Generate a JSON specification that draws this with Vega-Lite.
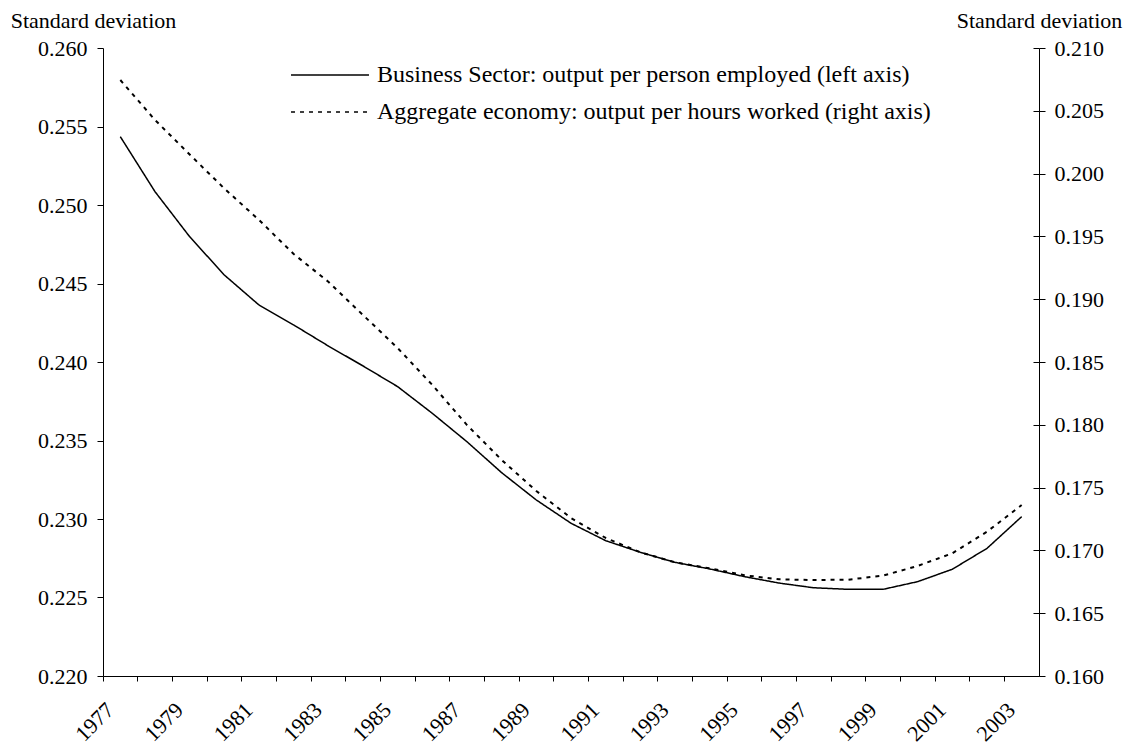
{
  "$schema": "https://vega.github.io/schema/vega-lite/v6.json",
  "autosize": "none",
  "width": 936,
  "height": 628,
  "padding": {"left": 103, "top": 48, "right": 94, "bottom": 71},
  "background": "white",
  "config": {
    "view": {"stroke": null},
    "font": "Liberation Serif",
    "axis": {
      "domainColor": "black", "tickColor": "black", "labelColor": "black", "titleColor": "black",
      "labelFont": "Liberation Serif", "titleFont": "Liberation Serif",
      "labelFontSize": 22, "titleFontSize": 22, "titleFontWeight": "normal",
      "grid": false, "domainWidth": 1, "tickWidth": 1
    },
    "legend": {
      "labelFont": "Liberation Serif", "labelFontSize": 24, "labelColor": "black", "labelLimit": 0,
      "symbolType": "M-4,0H4", "symbolSize": 380, "symbolStrokeWidth": 1.5,
      "symbolStrokeColor": "black", "symbolFillColor": "transparent"
    }
  },
  "data": {"values": [
    {"year": 1977, "series": "bus", "value": 0.25435},
    {"year": 1978, "series": "bus", "value": 0.25085},
    {"year": 1979, "series": "bus", "value": 0.24798},
    {"year": 1980, "series": "bus", "value": 0.24554},
    {"year": 1981, "series": "bus", "value": 0.24363},
    {"year": 1982, "series": "bus", "value": 0.24236},
    {"year": 1983, "series": "bus", "value": 0.24102},
    {"year": 1984, "series": "bus", "value": 0.23975},
    {"year": 1985, "series": "bus", "value": 0.23843},
    {"year": 1986, "series": "bus", "value": 0.23673},
    {"year": 1987, "series": "bus", "value": 0.23492},
    {"year": 1988, "series": "bus", "value": 0.23295},
    {"year": 1989, "series": "bus", "value": 0.23121},
    {"year": 1990, "series": "bus", "value": 0.22973},
    {"year": 1991, "series": "bus", "value": 0.22862},
    {"year": 1992, "series": "bus", "value": 0.22788},
    {"year": 1993, "series": "bus", "value": 0.22724},
    {"year": 1994, "series": "bus", "value": 0.22682},
    {"year": 1995, "series": "bus", "value": 0.22633},
    {"year": 1996, "series": "bus", "value": 0.22592},
    {"year": 1997, "series": "bus", "value": 0.22562},
    {"year": 1998, "series": "bus", "value": 0.22552},
    {"year": 1999, "series": "bus", "value": 0.22552},
    {"year": 2000, "series": "bus", "value": 0.22601},
    {"year": 2001, "series": "bus", "value": 0.22680},
    {"year": 2002, "series": "bus", "value": 0.22813},
    {"year": 2003, "series": "bus", "value": 0.23015},
    {"year": 1977, "series": "agg", "value": 0.20745},
    {"year": 1978, "series": "agg", "value": 0.20427},
    {"year": 1979, "series": "agg", "value": 0.20152},
    {"year": 1980, "series": "agg", "value": 0.19881},
    {"year": 1981, "series": "agg", "value": 0.19631},
    {"year": 1982, "series": "agg", "value": 0.19360},
    {"year": 1983, "series": "agg", "value": 0.19139},
    {"year": 1984, "series": "agg", "value": 0.18874},
    {"year": 1985, "series": "agg", "value": 0.18611},
    {"year": 1986, "series": "agg", "value": 0.18317},
    {"year": 1987, "series": "agg", "value": 0.17998},
    {"year": 1988, "series": "agg", "value": 0.17720},
    {"year": 1989, "series": "agg", "value": 0.17473},
    {"year": 1990, "series": "agg", "value": 0.17258},
    {"year": 1991, "series": "agg", "value": 0.17099},
    {"year": 1992, "series": "agg", "value": 0.16985},
    {"year": 1993, "series": "agg", "value": 0.16905},
    {"year": 1994, "series": "agg", "value": 0.16857},
    {"year": 1995, "series": "agg", "value": 0.16802},
    {"year": 1996, "series": "agg", "value": 0.16770},
    {"year": 1997, "series": "agg", "value": 0.16764},
    {"year": 1998, "series": "agg", "value": 0.16767},
    {"year": 1999, "series": "agg", "value": 0.16799},
    {"year": 2000, "series": "agg", "value": 0.16876},
    {"year": 2001, "series": "agg", "value": 0.16977},
    {"year": 2002, "series": "agg", "value": 0.17149},
    {"year": 2003, "series": "agg", "value": 0.17361}
  ]},
  "encoding": {
    "x": {
      "field": "year", "type": "ordinal",
      "scale": {"type": "band", "paddingInner": 0, "paddingOuter": 0},
      "axis": {
        "title": null, "bandPosition": 0, "labelAngle": -45, "labelAlign": "right",
        "labelBaseline": "middle", "labelPadding": 25, "labelOffset": -10, "tickSize": 5,
        "labelOverlap": false, "labelBound": false,
        "labelExpr": "datum.value % 2 == 1 ? datum.label : ''"
      }
    }
  },
  "layer": [
    {
      "transform": [{"filter": "datum.series == 'bus'"}],
      "mark": {"type": "line", "color": "black", "strokeWidth": 1.5},
      "encoding": {
        "y": {
          "field": "value", "type": "quantitative",
          "scale": {"domain": [0.22, 0.26], "zero": false, "nice": false},
          "axis": {
            "orient": "left", "values": [0.22, 0.225, 0.23, 0.235, 0.24, 0.245, 0.25, 0.255, 0.26],
            "format": ".3f", "tickSize": 6, "labelPadding": 10,
            "title": "Standard deviation", "titleAngle": 0, "titleAlign": "center",
            "titleBaseline": "alphabetic", "titleX": -10, "titleY": -21
          }
        },
        "strokeDash": {
          "field": "series", "type": "nominal",
          "scale": {"domain": ["bus", "agg"], "range": [[1, 0], [4, 5]]},
          "legend": {
            "title": null, "orient": "none", "legendX": 215, "legendY": 15,
            "padding": 0, "rowPadding": 13, "labelOffset": 35,
            "labelExpr": "datum.value == 'bus' ? 'Business Sector: output per person employed (left axis)' : 'Aggregate economy: output per hours worked (right axis)'"
          }
        }
      }
    },
    {
      "transform": [{"filter": "datum.series == 'agg'"}],
      "mark": {"type": "line", "color": "black", "strokeWidth": 2},
      "encoding": {
        "y": {
          "field": "value", "type": "quantitative",
          "scale": {"domain": [0.16, 0.21], "zero": false, "nice": false},
          "axis": {
            "orient": "right", "values": [0.16, 0.165, 0.17, 0.175, 0.18, 0.185, 0.19, 0.195, 0.2, 0.205, 0.21],
            "format": ".3f", "tickSize": 6, "labelPadding": 9,
            "title": "Standard deviation", "titleAngle": 0, "titleAlign": "center",
            "titleBaseline": "alphabetic", "titleX": 0, "titleY": -21
          }
        },
        "strokeDash": {"field": "series", "type": "nominal"}
      }
    },
    {
      "transform": [{"filter": "datum.series == 'agg'"}],
      "mark": {"type": "line", "opacity": 0},
      "encoding": {
        "y": {
          "field": "value", "type": "quantitative",
          "scale": {"domain": [0.16, 0.21], "zero": false, "nice": false},
          "axis": {
            "orient": "right", "values": [0.16, 0.165, 0.17, 0.175, 0.18, 0.185, 0.19, 0.195, 0.2, 0.205, 0.21],
            "tickSize": -6, "labels": false, "domain": false, "title": null
          }
        }
      }
    }
  ],
  "resolve": {"scale": {"y": "independent"}}
}
